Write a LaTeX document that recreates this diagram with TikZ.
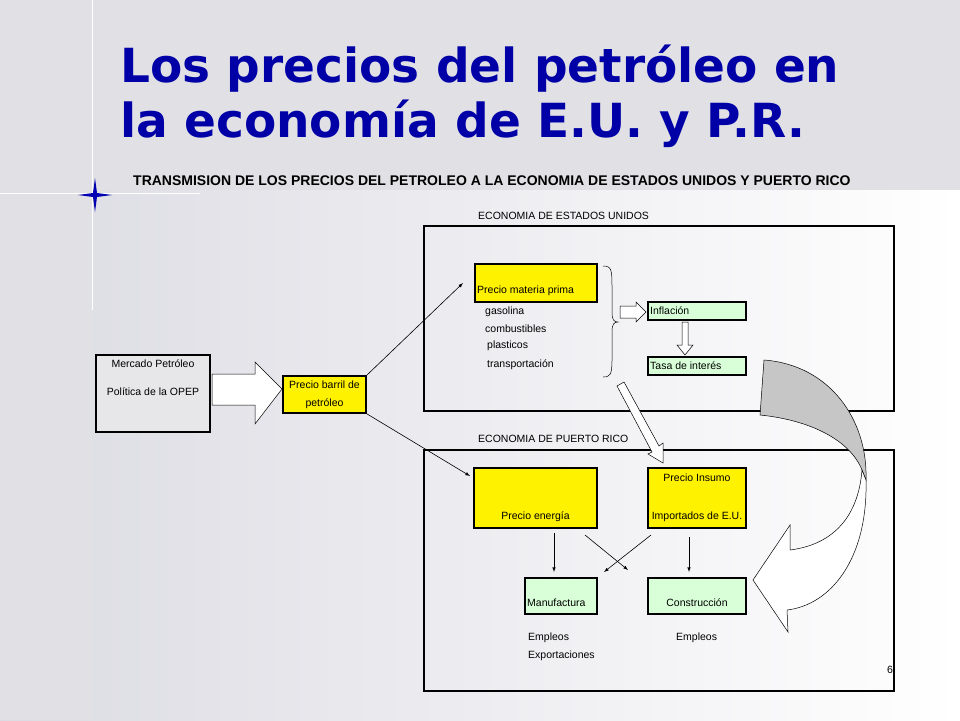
\documentclass[tikz,border=0pt]{standalone}
\usepackage{fontspec}
\setmainfont{Liberation Sans}
\newfontfamily\titlefont{DejaVu Sans}
\begin{document}
\begin{tikzpicture}[x=1pt,y=-1pt,
  lbl/.style={font=\fontsize{10.5}{12}\selectfont, inner sep=0pt},
  ybox/.style={draw=black, line width=1.6pt, fill=yellow, inner sep=0pt},
  gbox/.style={draw=black, line width=1.6pt, fill=green!15, inner sep=0pt},
  frame/.style={draw=black, line width=1.8pt},
  thin/.style={-latex, line width=0.6pt},
  blockarrow/.style={draw=black, line width=0.5pt, fill=white}]
\useasboundingbox (0,0) rectangle (960,720);
\shade[left color=blue!12!gray!25, right color=white] (0,0) rectangle (960,720);
\fill[blue!8!gray!22] (0,0) rectangle (960,190);
\fill[blue!8!gray!22] (0,0) rectangle (92,720);
% decorative cross
\draw[white, line width=0.8pt] (92,0) -- (92,310);
\draw[white, line width=0.8pt] (0,193) -- (200,193);
\fill[blue!70!black] (95,178) -- (97,193) -- (112,195) -- (97,197) -- (95,212) -- (93,197) -- (78,195) -- (93,193) -- cycle;
% title
\node[anchor=west, inner sep=0pt, text=blue!65!black, font=\titlefont\bfseries\fontsize{47}{52}\selectfont] (t1) at (120,69) {Los precios del petróleo en};
\node[anchor=west, inner sep=0pt, text=blue!65!black, font=\titlefont\bfseries\fontsize{47}{52}\selectfont] (t2) at (120,124) {la economía de E.U. y P.R.};
\node[anchor=west, inner sep=0pt, font=\bfseries\fontsize{14}{16}\selectfont] (sub) at (133,181) {TRANSMISION DE LOS PRECIOS DEL PETROLEO A LA ECONOMIA DE ESTADOS UNIDOS Y PUERTO RICO};
% frames
\draw[frame] (424,226) rectangle (894,411);
\node[lbl, anchor=west] (lus) at (478,216) {ECONOMIA DE ESTADOS UNIDOS};
\draw[frame] (424,450) rectangle (894,691);
\node[lbl, anchor=west] (lpr) at (478,439) {ECONOMIA DE PUERTO RICO};
% Mercado
\draw[line width=1.6pt, fill=blue!6!gray!18] (96,355) rectangle (210,432);
\node[lbl] (m1) at (153,364) {Mercado Petróleo};
\node[lbl] (m2) at (153,392) {Política de la OPEP};
\draw[blockarrow] (212,374) -- (255,374) -- (255,362) -- (282,389) -- (255,424) -- (255,405) -- (212,405) -- cycle;
\node[ybox, minimum width=83pt, minimum height=37pt, align=center, font=\fontsize{10.5}{18}\selectfont] (barril) at (324.5,394.5) {Precio barril de\\petróleo};
% US
\draw[ybox] (475,264) rectangle (597,302);
\node[lbl, anchor=west] (mp) at (477,291) {Precio materia prima};
\node[lbl, anchor=west] (g1) at (485,312) {gasolina};
\node[lbl, anchor=west] (g2) at (485,329) {combustibles};
\node[lbl, anchor=west] (g3) at (487,346) {plasticos};
\node[lbl, anchor=west] (g4) at (487,365) {transportación};
\draw[line width=0.5pt] (603,266) .. controls (612,266) and (612,270) .. (612,290) -- (612,312) .. controls (612,320) and (614,322) .. (618,322)
  .. controls (614,322) and (612,324) .. (612,332) -- (612,360) .. controls (612,375) and (610,377) .. (603,377);
\draw[blockarrow] (620,306) -- (636,306) -- (636,302) -- (646,312) -- (636,322) -- (636,318) -- (620,318) -- cycle;
\draw[gbox] (648,302) rectangle (746,320);
\node[lbl, anchor=west] (inf) at (650,311) {Inflación};
\draw[blockarrow] (682,322) -- (688,322) -- (688,345) -- (693,345) -- (685,355) -- (677,345) -- (682,345) -- cycle;
\draw[gbox] (648,357) rectangle (746,375);
\node[lbl, anchor=west] (tasa) at (650,366) {Tasa de interés};
% connectors from barril
\coordinate (mpin) at (463,283);
\coordinate (pein) at (470,476);
\draw[thin] (barril.north east) -- (mpin);
\draw[thin] (barril.south east) -- (pein);
% PR
\node[ybox, minimum width=123pt, minimum height=60pt] (pe) at (535.5,498) {};
\node[lbl] (pet) at (535.5,517) {Precio energía};
\node[ybox, minimum width=98pt, minimum height=60pt] (pi) at (697,498) {};
\node[lbl] (pit1) at (697,478) {Precio Insumo};
\node[lbl] (pit2) at (697,517) {Importados de E.U.};
\node[gbox, minimum width=72pt, minimum height=36pt] (man) at (561,596) {};
\node[lbl, anchor=west] (mant) at (527,603) {Manufactura};
\node[gbox, minimum width=98pt, minimum height=36pt] (con) at (697,596) {};
\node[lbl] (cont) at (697,603) {Construcción};
\coordinate (a1) at (554,533); \coordinate (a2) at (554,572);
\coordinate (b1) at (585,535); \coordinate (b2) at (628,570);
\coordinate (c1) at (651,535); \coordinate (c2) at (604,572);
\coordinate (d1) at (689,537); \coordinate (d2) at (689,572);
\draw[thin] (a1) -- (a2);
\draw[thin] (b1) -- (b2);
\draw[thin] (c1) -- (c2);
\draw[thin] (d1) -- (d2);
\node[lbl, anchor=west] (e1) at (528,638) {Empleos};
\node[lbl, anchor=west] (e2) at (528,656) {Exportaciones};
\node[lbl, anchor=west] (e3) at (676,638) {Empleos};
\node[lbl] (pg) at (890,670) {6};
% diagonal block arrow
\draw[blockarrow] (624,382) -- (617,386) -- (652,452) -- (648,454) -- (663,463) -- (663,443) -- (659,446) -- cycle;
% curved arrow
\draw[line width=0.5pt, fill=gray!45] (764,360) .. controls (830,365) and (868,420) .. (866,480) -- (862,470) .. controls (850,440) and (810,420) .. (760,415) -- cycle;
\draw[blockarrow] (866,480) .. controls (868,560) and (830,605) .. (787,610) -- (788,632) -- (753,580) -- (790,525) -- (790,550) .. controls (830,545) and (858,520) .. (862,470) -- cycle;
\end{tikzpicture}
\end{document}
